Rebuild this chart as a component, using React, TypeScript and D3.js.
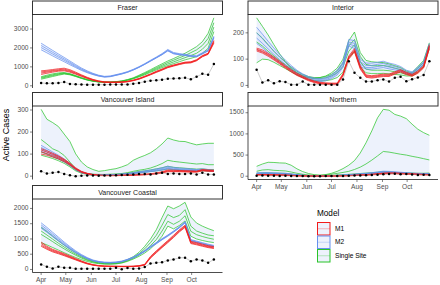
import React from "react";
import * as d3 from "d3";

// ---------- data ----------
const dates = [
  "2020-04-01","2020-04-08","2020-04-15","2020-04-22","2020-04-29","2020-05-06","2020-05-13","2020-05-20",
  "2020-05-27","2020-06-03","2020-06-10","2020-06-17","2020-06-24","2020-07-01","2020-07-08","2020-07-15",
  "2020-07-22","2020-07-29","2020-08-05","2020-08-12","2020-08-19","2020-08-26","2020-09-02","2020-09-09",
  "2020-09-16","2020-09-23","2020-09-30","2020-10-07","2020-10-14","2020-10-21","2020-10-28",
];
const monthTicks = ["2020-04-01","2020-05-01","2020-06-01","2020-07-01","2020-08-01","2020-09-01","2020-10-01"];
const monthLabels = ["Apr","May","Jun","Jul","Aug","Sep","Oct"];

const models = ["M1", "M2", "Single Site"];

// Fraser
const fraserObs = [150,130,140,150,200,100,80,70,60,60,60,60,70,70,70,70,110,150,220,270,290,320,370,380,400,420,350,480,630,580,1150];
const fraserM1 = [
  [790,820,860,900,930,850,720,580,450,340,260,210,200,200,210,240,300,390,510,630,770,890,1020,1100,1180,1250,1270,1380,1600,1720,2400],
  [730,770,810,850,880,800,680,550,425,320,245,200,190,190,200,230,290,375,490,610,745,865,995,1080,1160,1230,1250,1360,1575,1700,2350],
  [670,720,770,810,830,760,645,520,405,305,235,190,180,180,190,220,280,360,475,595,725,845,975,1060,1140,1210,1230,1340,1550,1680,2300],
  [600,660,720,770,790,720,610,495,385,290,225,180,170,170,180,210,270,345,460,580,705,825,955,1040,1120,1190,1210,1320,1530,1660,2250],
];
const fraserM2 = [
  [2250,2060,1870,1680,1500,1310,1120,940,790,660,560,500,520,590,660,750,870,1010,1170,1350,1520,1700,1920,1760,1700,1660,1610,1580,1740,1900,2620],
  [2130,1950,1770,1590,1420,1240,1060,890,750,630,540,480,500,570,640,730,850,990,1150,1320,1490,1670,1880,1720,1670,1630,1580,1560,1710,1870,2580],
  [2020,1850,1680,1510,1350,1180,1010,850,720,610,520,470,490,560,630,720,840,980,1140,1310,1480,1650,1860,1700,1650,1610,1560,1540,1690,1850,2550],
  [1900,1740,1580,1420,1270,1110,960,810,690,590,510,460,480,550,620,710,830,970,1130,1300,1470,1640,1840,1690,1640,1600,1550,1530,1680,1840,2520],
];
const fraserSS = [
  [480,560,630,680,700,640,540,430,330,260,220,200,200,220,260,330,420,560,700,850,1010,1160,1310,1440,1580,1720,1890,2070,2330,2770,3590],
  [440,510,580,640,670,620,520,415,320,255,212,192,192,212,248,315,403,523,660,800,950,1090,1230,1350,1480,1600,1750,1900,2130,2500,3330],
  [400,470,540,600,650,600,505,400,310,248,205,186,186,206,240,303,387,497,620,755,895,1025,1150,1260,1375,1485,1600,1720,1930,2240,3100],
  [350,420,490,560,620,580,490,390,300,240,200,180,180,200,230,290,370,470,580,710,840,960,1070,1170,1270,1370,1450,1540,1720,1980,2860],
];

// Interior
const interiorObs = [60,11,20,8,16,13,3,3,15,3,3,3,3,3,3,23,92,48,29,15,15,20,23,15,29,33,16,24,30,40,92];
const interiorM1 = [
  [142,135,122,108,92,75,60,46,35,25,17,12,10,9,9,45,112,140,75,40,37,40,43,43,52,60,50,42,55,75,155],
  [138,130,118,104,88,72,57,43,32,22,15,10,8,7,7,42,108,135,70,37,34,37,40,40,49,57,47,40,52,72,150],
  [135,127,115,100,85,69,54,40,30,20,13,8,6,5,5,39,104,131,66,34,31,34,37,37,46,54,44,37,49,69,145],
  [131,123,111,97,82,66,51,38,28,18,11,6,4,3,3,36,100,127,62,31,28,31,34,34,43,51,41,35,46,66,140],
];
const interiorM2 = [
  [221,195,168,142,118,96,76,58,44,34,28,26,30,40,58,90,175,170,100,85,85,88,92,85,80,72,58,52,70,90,160],
  [200,178,153,130,108,88,70,54,41,31,25,22,26,36,52,82,165,160,90,76,76,80,84,77,72,65,52,48,65,85,155],
  [180,160,139,118,98,80,63,48,36,27,21,18,22,31,46,75,158,150,80,68,68,72,75,70,65,59,48,45,61,81,150],
  [160,143,124,105,88,72,56,42,31,23,17,14,18,26,40,68,150,140,72,62,62,65,68,63,59,54,45,42,58,78,146],
];
const interiorSS = [
  [257,225,192,155,120,90,66,48,36,30,28,30,36,48,66,100,170,203,125,95,90,88,87,82,75,68,55,48,72,95,162],
  [200,180,155,130,108,88,70,54,42,34,30,30,34,42,56,85,150,175,110,80,75,75,76,72,66,60,50,45,66,88,155],
  [165,150,130,112,94,78,62,48,37,30,26,26,29,36,48,72,130,155,90,62,58,58,58,56,52,48,42,40,58,80,150],
  [86,100,98,88,76,64,52,40,30,23,19,17,18,22,30,50,105,130,70,48,45,45,46,44,42,40,36,36,50,70,140],
];

// Vancouver Island
const islandObs = [22,12,15,19,10,4,0,2,3,3,2,3,3,4,5,6,8,10,10,8,12,15,10,12,10,10,12,8,15,8,8];
const islandM1 = [
  [125,115,104,92,77,59,38,22,13,8,5,4,4,4,5,6,7,8,9,11,15,20,28,27,26,25,24,23,30,28,27],
  [118,109,99,88,74,56,35,20,12,7,4,3,3,3,4,5,6,7,8,10,13,18,25,24,24,23,22,21,28,26,25],
  [110,102,93,83,70,53,33,19,11,6,4,3,3,3,3,4,5,6,7,9,12,16,23,22,22,21,20,20,26,24,23],
  [100,95,87,78,66,50,31,17,10,6,3,2,2,2,3,3,4,5,6,8,10,14,20,20,20,19,18,18,24,22,21],
];
const islandM2 = [
  [140,125,110,95,78,58,35,20,12,8,6,6,7,8,10,12,16,20,24,28,33,38,45,40,37,35,33,30,33,30,28],
  [130,117,103,89,73,54,32,18,11,7,5,5,6,7,9,11,14,18,21,25,29,34,40,36,33,31,30,28,30,27,25],
  [122,110,97,84,69,51,30,17,10,6,5,5,5,6,8,10,13,16,19,22,26,30,36,32,30,28,27,26,28,25,23],
  [112,101,90,78,64,48,28,15,9,5,4,4,4,5,7,9,12,14,17,20,23,27,32,29,27,26,25,24,26,23,21],
];
const islandSS = [
  [303,258,243,225,191,157,101,64,42,30,22,25,30,34,42,52,72,84,94,106,124,146,173,164,158,157,149,142,146,149,149],
  [166,146,124,113,94,64,34,19,12,9,8,8,9,10,12,16,22,27,31,37,46,57,72,67,64,61,58,55,57,52,52],
  [110,100,88,78,65,48,28,16,10,7,6,6,7,8,10,13,17,21,24,28,33,38,45,40,38,36,34,32,33,30,30],
  [95,88,80,70,58,42,24,13,8,5,4,4,5,6,8,10,13,16,18,21,24,28,33,30,28,27,25,24,25,23,23],
];

// Northern
const northernObs = [10,15,10,12,8,10,5,3,3,2,2,2,3,5,8,5,10,15,20,25,30,35,45,55,60,50,55,40,30,35,30];
const northernM1 = [
  [40,42,40,36,32,28,22,15,10,6,4,3,4,6,9,13,18,24,30,38,48,60,75,80,78,72,65,58,50,45,42],
  [35,37,35,32,28,25,19,13,9,5,3,3,3,5,8,11,16,21,27,34,43,54,68,73,71,66,60,53,46,41,38],
  [30,32,30,28,25,22,17,11,8,5,3,2,3,4,7,10,14,19,24,30,38,48,62,66,65,60,55,48,42,37,34],
  [26,28,26,24,22,19,15,10,7,4,2,2,2,4,6,8,12,16,21,27,34,43,55,60,58,54,50,44,38,34,31],
];
const northernM2 = [
  [80,85,85,80,75,70,55,38,25,15,9,6,8,14,22,30,40,50,60,70,85,100,120,115,105,95,85,75,68,65,65],
  [70,75,75,70,66,62,48,33,22,13,8,5,7,12,19,26,35,44,53,62,76,90,108,103,95,86,77,68,62,60,60],
  [62,66,66,62,58,54,42,29,19,11,7,4,6,10,16,22,30,38,46,55,68,80,98,93,86,78,70,62,56,55,55],
  [55,58,58,55,51,47,37,25,16,9,6,4,5,8,13,18,25,32,40,48,60,72,88,84,78,71,64,57,51,50,50],
];
const northernSS = [
  [234,289,330,325,315,310,260,175,110,65,38,28,40,70,115,180,260,370,550,790,1070,1380,1580,1560,1460,1420,1360,1230,1110,1030,967],
  [117,148,156,140,133,125,100,70,47,30,20,16,28,50,68,90,115,160,215,290,380,480,585,570,545,520,500,470,445,415,385],
  [70,80,80,75,72,68,55,38,25,15,10,8,12,20,28,36,45,55,65,75,85,95,110,100,90,85,80,75,70,70,75],
  [55,60,60,56,54,50,40,28,18,10,6,5,8,14,20,26,32,40,48,56,65,72,85,78,70,65,62,58,55,58,62],
];

// Vancouver Coastal
const coastalObs = [164,87,33,87,55,55,20,20,25,20,20,25,25,55,10,44,22,33,77,197,219,240,295,328,383,383,273,328,295,219,328];
const coastalM1 = [
  [900,760,660,590,520,440,360,280,210,160,130,115,110,108,105,105,110,125,170,430,610,780,950,1120,1300,1450,920,880,830,780,750],
  [850,725,630,565,495,418,342,266,200,152,124,110,105,103,100,100,104,118,160,410,588,758,925,1095,1275,1425,895,855,805,758,728],
  [800,690,602,540,472,398,326,254,190,145,118,104,100,98,95,95,98,112,150,390,566,736,900,1070,1250,1400,870,830,782,736,706],
  [760,660,575,515,450,380,311,243,182,139,113,100,96,94,91,91,94,107,140,372,546,716,878,1048,1228,1378,848,808,760,716,686],
];
const coastalM2 = [
  [1530,1380,1220,1060,900,750,610,490,390,310,265,240,235,245,275,335,410,510,620,760,880,1010,1130,1260,1400,1570,980,930,880,830,790],
  [1460,1315,1160,1010,860,715,585,470,375,298,255,232,227,237,266,325,398,498,607,745,865,995,1115,1245,1385,1552,962,912,862,812,772],
  [1400,1262,1112,968,825,688,562,452,362,288,247,225,220,230,258,316,388,488,596,732,852,982,1102,1232,1372,1538,948,898,848,798,758],
  [1350,1218,1072,932,795,662,542,437,350,280,240,219,214,224,251,308,379,479,585,720,840,970,1090,1220,1360,1524,934,884,834,784,744],
];
const coastalSS = [
  [1380,1240,1090,940,800,670,550,440,350,280,235,210,205,215,250,320,420,560,760,1000,1300,1700,2080,1990,2080,2200,1720,1520,1420,1340,1270],
  [1260,1130,995,860,735,615,505,405,322,260,220,198,194,204,236,300,390,510,680,880,1120,1450,1800,1700,1770,1960,1420,1260,1190,1130,1105],
  [1150,1035,912,790,675,566,466,375,300,244,208,188,184,194,224,284,365,470,610,780,980,1260,1580,1480,1580,1760,1250,1140,1080,1030,990],
  [880,805,720,635,550,468,392,322,262,218,190,174,172,182,210,265,340,430,540,680,860,1090,1420,1330,1440,1590,1090,1000,950,910,880],
];

const fraserTicks = [0, 1000, 2000, 3000];
const interiorTicks = [0, 100, 200];
const islandTicks = [0, 100, 200, 300];
const northernTicks = [0, 500, 1000, 1500];
const coastalTicks = [0, 500, 1000, 1500, 2000];

// ---------- styling / layout ----------
const colors: Record<string, string> = { "M1": "#F21B1B", "M2": "#6690EE", "Single Site": "#29C429" };
const ribbonFill = "#C3D4F5";
const FONT = "'Liberation Sans', Arial, Helvetica, sans-serif";

const COLS = [{ x0: 32.5, x1: 222.5 }, { x0: 248, x1: 438 }];
const ROW_TOP = [1, 92.5, 185.5];
const STRIP_H = 13.5;
const PANEL_H = 73.5;

const panels = [
  { name: "Fraser", col: 0, row: 0, obs: fraserObs, runs: [fraserM1, fraserM2, fraserSS], ticks: fraserTicks, xAxis: false },
  { name: "Interior", col: 1, row: 0, obs: interiorObs, runs: [interiorM1, interiorM2, interiorSS], ticks: interiorTicks, xAxis: false },
  { name: "Vancouver Island", col: 0, row: 1, obs: islandObs, runs: [islandM1, islandM2, islandSS], ticks: islandTicks, xAxis: false },
  { name: "Northern", col: 1, row: 1, obs: northernObs, runs: [northernM1, northernM2, northernSS], ticks: northernTicks, xAxis: true },
  { name: "Vancouver Coastal", col: 0, row: 2, obs: coastalObs, runs: [coastalM1, coastalM2, coastalSS], ticks: coastalTicks, xAxis: true },
];

const parse = d3.timeParse("%Y-%m-%d");
const dateObjs = dates.map((d) => parse(d) as Date);
const monthObjs = monthTicks.map((d) => parse(d) as Date);

function Panel({ p }: { p: typeof panels[number] }) {
  const { x0, x1 } = COLS[p.col];
  const stripTop = ROW_TOP[p.row];
  const top = stripTop + STRIP_H;
  const bottom = top + PANEL_H;

  const t0 = dateObjs[0].getTime();
  const t1 = dateObjs[dateObjs.length - 1].getTime();
  const tpad = (t1 - t0) * 0.05;
  const x = d3.scaleTime().domain([new Date(t0 - tpad), new Date(t1 + tpad)]).range([x0, x1]);

  const all: number[] = [...p.obs];
  p.runs.forEach((m) => m.forEach((s) => all.push(...s)));
  const [mn, mx] = d3.extent(all) as [number, number];
  const pad = (mx - mn) * 0.05;
  const y = d3.scaleLinear().domain([mn - pad, mx + pad]).range([bottom, top]);

  const line = d3.line<number>().x((_, i) => x(dateObjs[i])).y((v) => y(v));
  const drawOrder = [2, 1, 0];

  return (
    <g>
      {p.runs.map((m, mi) => {
        const lo = dateObjs.map((_, i) => Math.min(...m.map((s) => s[i])));
        const hi = dateObjs.map((_, i) => Math.max(...m.map((s) => s[i])));
        const a = d3
          .area<number>()
          .x((_, i) => x(dateObjs[i]))
          .y0((_, i) => y(lo[i]))
          .y1((_, i) => y(hi[i]));
        return <path key={"rib" + mi} d={a(lo) || ""} fill={ribbonFill} fillOpacity={0.3} stroke="none" />;
      })}
      {drawOrder.map((mi) =>
        p.runs[mi].map((s, si) => (
          <path key={mi + "-" + si} d={line(s) || ""} fill="none" stroke={colors[models[mi]]} strokeWidth={0.85} strokeOpacity={0.85} />
        ))
      )}
      <path d={line(p.obs) || ""} fill="none" stroke="#9A9A9A" strokeWidth={0.5} />
      {p.obs.map((v, i) => (
        <circle key={"o" + i} cx={x(dateObjs[i])} cy={y(v)} r={1.25} fill="#000" />
      ))}
      <rect x={x0} y={stripTop} width={x1 - x0} height={STRIP_H} fill="#fff" stroke="#333" strokeWidth={1} />
      <text x={(x0 + x1) / 2} y={stripTop + STRIP_H / 2 + 0.5} textAnchor="middle" dominantBaseline="middle" fontSize={7} fill="#1A1A1A" fontFamily={FONT}>
        {p.name}
      </text>
      <line x1={x0} x2={x0} y1={top} y2={bottom} stroke="#000" strokeWidth={0.7} />
      {p.ticks.map((t) => (
        <g key={"yt" + t}>
          <line x1={x0 - 2.5} x2={x0} y1={y(t)} y2={y(t)} stroke="#333" strokeWidth={0.6} />
          <text x={x0 - 4} y={y(t)} textAnchor="end" dominantBaseline="middle" fontSize={6.6} fill="#4D4D4D" fontFamily={FONT}>
            {t}
          </text>
        </g>
      ))}
      {p.xAxis && (
        <g>
          <line x1={x0} x2={x1} y1={bottom} y2={bottom} stroke="#000" strokeWidth={0.7} />
          {monthObjs.map((m, i) => (
            <g key={"xt" + i}>
              <line x1={x(m)} x2={x(m)} y1={bottom} y2={bottom + 2.5} stroke="#333" strokeWidth={0.6} />
              <text x={x(m)} y={bottom + 8} textAnchor="middle" dominantBaseline="middle" fontSize={6.6} fill="#4D4D4D" fontFamily={FONT}>
                {monthLabels[i]}
              </text>
            </g>
          ))}
        </g>
      )}
    </g>
  );
}

export default function App() {
  const legendX = 317;
  const legendY = 222;
  const keyH = 13.5;
  return (
    <svg width={440} height={285} style={{ position: "absolute", left: 0, top: 0, background: "#fff" }}>
      <rect width={440} height={285} fill="#fff" />
      {panels.map((p) => (
        <Panel key={p.name} p={p} />
      ))}
      <text transform="translate(6.5,135) rotate(-90)" textAnchor="middle" dominantBaseline="middle" fontSize={9} fill="#000" fontFamily={FONT}>
        Active Cases
      </text>
      <text x={legendX} y={214} dominantBaseline="middle" fontSize={8.2} fill="#000" fontFamily={FONT}>
        Model
      </text>
      {models.map((m, i) => (
        <g key={m}>
          <rect x={legendX + 0.5} y={legendY + i * keyH + 0.5} width={12.5} height={keyH - 1} fill={ribbonFill} fillOpacity={0.3} stroke={colors[m]} strokeWidth={1} />
          <line x1={legendX + 0.5} x2={legendX + 13} y1={legendY + i * keyH + keyH / 2} y2={legendY + i * keyH + keyH / 2} stroke={colors[m]} strokeWidth={0.6} strokeOpacity={0.5} />
          <text x={legendX + 18} y={legendY + i * keyH + keyH / 2} dominantBaseline="middle" fontSize={6.6} fill="#000" fontFamily={FONT}>
            {m}
          </text>
        </g>
      ))}
    </svg>
  );
}
